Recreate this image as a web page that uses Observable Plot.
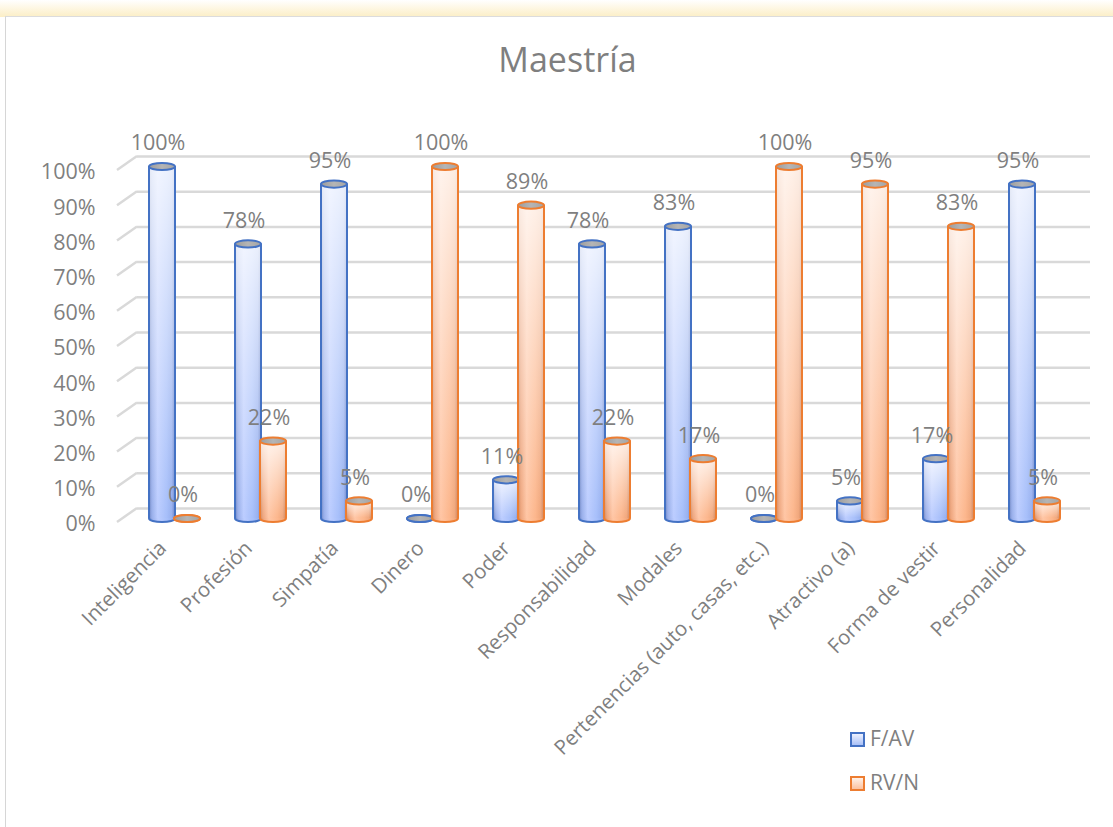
<!DOCTYPE html>
<html>
<head>
<meta charset="utf-8">
<script src="https://cdn.jsdelivr.net/npm/d3@7"></script>
<script src="https://cdn.jsdelivr.net/npm/@observablehq/plot@0.6"></script>
<style>
  html, body { margin: 0; padding: 0; background: #fff; }
  #wrap { position: relative; width: 1113px; height: 827px; overflow: hidden; background: #fff; }
  #glow { position: absolute; left: 0; top: 0; width: 1113px; height: 17px;
          background: linear-gradient(to bottom, #ffffff 0%, #fdf3d6 70%, #fbeec6 100%); }
  #frame { position: absolute; left: 5px; top: 16px; width: 1130px; height: 900px;
           border-left: 1.5px solid #d6d6d6; border-top: 1.5px solid #dcdcdc; background: #fff; }
  #title { position: absolute; left: 11px; width: 1113px; top: 36px; text-align: center;
           font-family: 'Open Sans', sans-serif; font-size: 34px; color: #7f7f7f; }
  #chart { position: absolute; left: 0; top: 0; }
  .leg { position: absolute; font-family: 'Open Sans', sans-serif; font-size: 21px; color: #7f7f7f; line-height: 24px; }
  .sw { display: inline-block; width: 11px; height: 11px; vertical-align: -1px; margin-right: 5px; }
</style>
</head>
<body>
<div id="wrap">
  <div id="glow"></div>
  <div id="frame"></div>
  <div id="chart"></div>
  <div id="title">Maestría</div>
  <div class="leg" style="left:850px; top:726px;"><span class="sw" style="border:2px solid #4472c4; background:linear-gradient(#eef2ff,#a9c0f7);"></span>F/AV</div>
  <div class="leg" style="left:850px; top:770px;"><span class="sw" style="border:2px solid #ed7d31; background:linear-gradient(#fff1e8,#fcc2a0);"></span>RV/N</div>
</div>
<script>
const categories = ["Inteligencia", "Profesión", "Simpatía", "Dinero", "Poder", "Responsabilidad", "Modales", "Pertenencias (auto, casas, etc.)", "Atractivo (a)", "Forma de vestir", "Personalidad"];
const seriesNames = ["F/AV", "RV/N"];
const favValues = [1.00, 0.78, 0.95, 0.00, 0.11, 0.78, 0.83, 0.00, 0.05, 0.17, 0.95];
const rvnValues = [0.00, 0.22, 0.05, 1.00, 0.89, 0.22, 0.17, 1.00, 0.95, 0.83, 0.05];
const yTicks = [0, 0.1, 0.2, 0.3, 0.4, 0.5, 0.6, 0.7, 0.8, 0.9, 1.0];

const favData = categories.map((c, i) => ({cat: c, series: seriesNames[0], v: favValues[i]}));
const rvnData = categories.map((c, i) => ({cat: c, series: seriesNames[1], v: rvnValues[i]}));

const W = 1113, H = 827;
const mL = 137, mR = 23, mT = 166, mB = 309;
const bw = (W - mL - mR) / categories.length;
const barW = 26;
const inset = (bw - barW) / 2;
const pairShift = -10;
const offBlue = pairShift - 12.5, offOrange = pairShift + 12.5;
const gridColor = "#d9d9d9";
const textColor = "#7f7f7f";
const pct = d3.format(".0%");
const NS = "http://www.w3.org/2000/svg";

// ellipse symbol for cylinder caps
const ellipse = {
  draw(ctx) {
    const rx = 13, ry = 3.6, k = 0.5523;
    ctx.moveTo(rx, 0);
    ctx.bezierCurveTo(rx, ry * k, rx * k, ry, 0, ry);
    ctx.bezierCurveTo(-rx * k, ry, -rx, ry * k, -rx, 0);
    ctx.bezierCurveTo(-rx, -ry * k, -rx * k, -ry, 0, -ry);
    ctx.bezierCurveTo(rx * k, -ry, rx, -ry * k, rx, 0);
    ctx.closePath();
  }
};

function defsMark() {
  const defs = document.createElementNS(NS, "defs");
  defs.innerHTML = `
    <linearGradient id="gBlue" x1="0" x2="1" y1="0" y2="0">
      <stop offset="0" stop-color="#6a80bd"/>
      <stop offset="0.12" stop-color="#98aeea"/>
      <stop offset="0.35" stop-color="#bccdff"/>
      <stop offset="0.7" stop-color="#a7bffa"/>
      <stop offset="0.9" stop-color="#98b1f0"/>
      <stop offset="1" stop-color="#768fd2"/>
    </linearGradient>
    <linearGradient id="gOrange" x1="0" x2="1" y1="0" y2="0">
      <stop offset="0" stop-color="#c58462"/>
      <stop offset="0.12" stop-color="#eea57d"/>
      <stop offset="0.35" stop-color="#ffc6a5"/>
      <stop offset="0.7" stop-color="#fcb68c"/>
      <stop offset="0.9" stop-color="#f1a77c"/>
      <stop offset="1" stop-color="#d38e68"/>
    </linearGradient>
    <linearGradient id="vWhite" x1="0" x2="0" y1="0" y2="1">
      <stop offset="0" stop-color="#ffffff" stop-opacity="0.8"/>
      <stop offset="0.5" stop-color="#ffffff" stop-opacity="0.4"/>
      <stop offset="1" stop-color="#ffffff" stop-opacity="0"/>
    </linearGradient>
    <linearGradient id="gCap" x1="0" x2="1" y1="0" y2="0">
      <stop offset="0" stop-color="#9c9c9c"/>
      <stop offset="0.5" stop-color="#b5b5b5"/>
      <stop offset="1" stop-color="#a4a4a4"/>
    </linearGradient>`;
  return defs;
}

function diagMark(...args) {
  const scales = args.find(a => a && typeof a.y === "function");
  const g = document.createElementNS(NS, "g");
  if (!scales) return g;
  for (const t of yTicks) {
    const yy = scales.y(t);
    const l = document.createElementNS(NS, "line");
    l.setAttribute("x1", mL); l.setAttribute("y1", yy - 10);
    l.setAttribute("x2", mL - 20); l.setAttribute("y2", yy + 4);
    l.setAttribute("stroke", gridColor); l.setAttribute("stroke-width", 2.5);
    g.appendChild(l);
  }
  return g;
}

function cylinder(data, off, grad, stroke) {
  return [
    Plot.dot(data, {x: "cat", y: () => 0, dx: off, symbol: ellipse, r: 5, fill: `url(#${grad})`, stroke, strokeWidth: 2}),
    Plot.barY(data, {x: "cat", y: "v", dx: off, insetLeft: inset, insetRight: inset, fill: `url(#${grad})`}),
    Plot.barY(data, {x: "cat", y: "v", dx: off, insetLeft: inset, insetRight: inset, fill: "url(#vWhite)"}),
    Plot.ruleX(data, {x: "cat", y1: () => 0, y2: "v", dx: off - barW / 2, stroke, strokeWidth: 2}),
    Plot.ruleX(data, {x: "cat", y1: () => 0, y2: "v", dx: off + barW / 2, stroke, strokeWidth: 2}),
    Plot.dot(data, {x: "cat", y: "v", dx: off, symbol: ellipse, r: 5, fill: "url(#gCap)", stroke, strokeWidth: 2})
  ];
}

const chart = Plot.plot({
  width: W, height: H,
  marginLeft: mL, marginRight: mR, marginTop: mT, marginBottom: mB,
  x: {type: "band", domain: categories, padding: 0, axis: null},
  y: {domain: [0, 1], axis: null},
  style: {fontFamily: "'Open Sans', sans-serif", fontSize: "21px", color: textColor, background: "transparent", overflow: "visible"},
  marks: [
    defsMark,
    Plot.ruleY(yTicks, {y: d => d, dy: -10, stroke: gridColor, strokeWidth: 2.5}),
    diagMark,
    Plot.axisY({ticks: yTicks, tickFormat: pct, tickSize: 0, tickPadding: 42, dy: 6, fontSize: 21.5, color: textColor, label: null}),
    ...cylinder(favData, offBlue, "gBlue", "#4472c4"),
    ...cylinder(rvnData, offOrange, "gOrange", "#ed7d31"),
    Plot.text(favData, {x: "cat", y: "v", dx: offBlue - 4, dy: -23, text: d => pct(d.v), fill: textColor, fontSize: 21.5}),
    Plot.text(rvnData, {x: "cat", y: "v", dx: offOrange - 4, dy: -23, text: d => pct(d.v), fill: textColor, fontSize: 21.5}),
    Plot.text(categories, {x: d => d, frameAnchor: "bottom", dx: pairShift - 7, dy: 31, rotate: -45, textAnchor: "end", text: d => d, fill: textColor, fontSize: 20.5})
  ]
});
document.getElementById("chart").appendChild(chart);
</script>
</body>
</html>
